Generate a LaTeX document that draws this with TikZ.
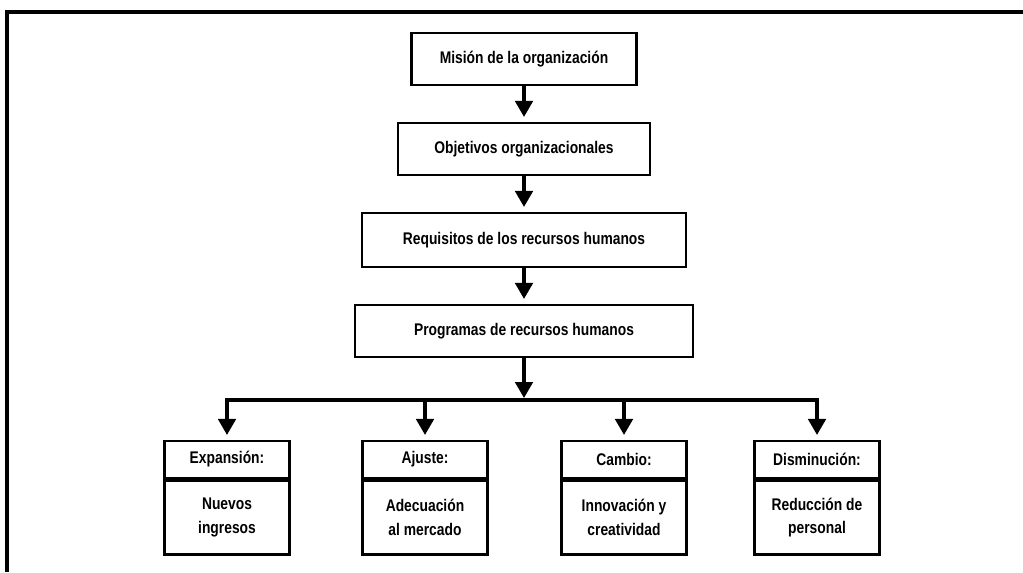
\documentclass[tikz,border=0pt]{standalone}
\usepackage{fontspec}
\setmainfont{Liberation Sans}[FakeStretch=0.82]
\usetikzlibrary{arrows.meta}
\tikzset{
  caja/.style={draw, line width=1.8pt, minimum height=1.3cm, inner sep=0pt,
    font=\fontsize{12pt}{17pt}\selectfont\bfseries},
  cabecera/.style={draw, line width=1.8pt, minimum width=3.125cm, minimum height=0.925cm,
    inner sep=0pt, font=\fontsize{12pt}{17pt}\selectfont\bfseries},
  cuerpo/.style={draw, line width=1.8pt, minimum width=3.125cm, minimum height=1.85cm,
    inner sep=0pt, align=center, font=\fontsize{12pt}{17pt}\selectfont\bfseries},
  flecha/.style={line width=2.2pt, shorten >=0.12cm, -{Triangle[width=0.44cm,length=0.4cm]}}
}
\begin{document}
\begin{tikzpicture}[x=0.025cm, y=-0.025cm]
   \useasboundingbox (0,0) rectangle (1023,572);
   % marco
   \draw[line width=3.2pt] (7,572) -- (7,12) -- (1023,12);
    \node[caja, minimum width=5.625cm] (mision) at (524,59) {Misión de la organización};
    \node[caja, minimum width=6.3cm] (objetivos) at (524,149) {Objetivos organizacionales};
    \node[caja, minimum width=8.1cm, minimum height=1.35cm] (requisitos) at (524,240) {Requisitos de los recursos humanos};
    \node[caja, minimum width=8.45cm] (programas) at (524,331) {Programas de recursos humanos};
    \coordinate (bus) at (524,400);
  % \draw[gray,very thin] (0,0) grid (1023,572);
    \node[cabecera] (expansion) at (227,459.5) {Expansión:};
    \node[cuerpo, anchor=north] (expansion-b) at (expansion.south) {Nuevos\\ingresos};
    \node[cabecera] (ajuste) at (425,459.5) {Ajuste:};
    \node[cuerpo, anchor=north] (ajuste-b) at (ajuste.south) {Adecuación\\al mercado};
    \node[cabecera] (cambio) at (624,459.5) {Cambio:};
    \node[cuerpo, anchor=north] (cambio-b) at (cambio.south) {Innovación y\\creatividad};
    \node[cabecera] (disminucion) at (817,459.5) {Disminución:};
    \node[cuerpo, anchor=north] (disminucion-b) at (disminucion.south) {Reducción de\\personal};
    \draw[flecha] (mision) -- (objetivos);
    \draw[flecha] (objetivos) -- (requisitos);
    \draw[flecha] (requisitos) -- (programas);
    \draw[flecha, shorten >=0.05cm] (programas) -- (bus);
    \draw[flecha] (bus) -| (expansion);
    \draw[flecha] (bus) -| (ajuste);
    \draw[flecha] (bus) -| (cambio);
    \draw[flecha] (bus) -| (disminucion);
    \end{tikzpicture}
\end{document}
